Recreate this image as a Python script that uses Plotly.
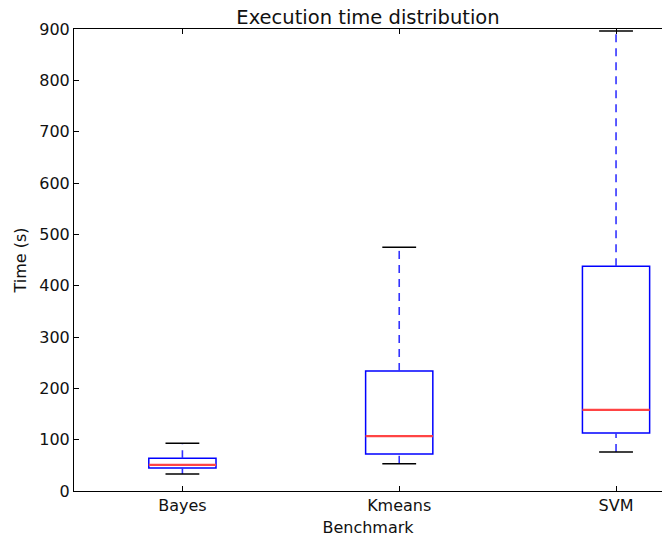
import plotly.graph_objects as go

benchmarks = ["Bayes", "Kmeans", "SVM"]
positions = [1, 2, 3]
whisker_low = [33, 53, 76]
q1 = [45, 72, 113]
median = [51, 107, 158]
q3 = [64, 234, 438]
whisker_high = [93, 475, 896]

box_half = 0.155
cap_half = 0.078

fig = go.Figure()

# boxes
fig.add_trace(go.Box(
    x=positions, q1=q1, median=median, q3=q3,
    lowerfence=q1, upperfence=q3,
    width=2 * box_half, whiskerwidth=0,
    line=dict(color="#0000ff", width=1.5),
    fillcolor="rgba(0,0,0,0)", boxpoints=False,
    hoverinfo="skip", showlegend=False,
))

for p, lo, a, m, b, hi in zip(positions, whisker_low, q1, median, q3, whisker_high):
    # whiskers (dashed)
    for y0, y1 in ((lo, a), (b, hi)):
        fig.add_trace(go.Scatter(x=[p, p], y=[y0, y1], mode="lines",
                                 line=dict(color="#3333ff", width=1.6, dash="8px,6px"),
                                 showlegend=False, hoverinfo="skip"))
    # caps
    for y in (lo, hi):
        fig.add_trace(go.Scatter(x=[p - cap_half, p + cap_half], y=[y, y], mode="lines",
                                 line=dict(color="black", width=1.5),
                                 showlegend=False, hoverinfo="skip", cliponaxis=False))
    # median
    fig.add_trace(go.Scatter(x=[p - box_half, p + box_half], y=[m, m], mode="lines",
                             line=dict(color="#ff4444", width=2.2),
                             showlegend=False, hoverinfo="skip"))

axis_font = dict(family="DejaVu Sans", size=16, color="#111111")

fig.update_layout(
    width=662, height=538,
    margin=dict(l=74, r=0, t=29, b=47, autoexpand=False),
    plot_bgcolor="white", paper_bgcolor="white",
    font=dict(family="DejaVu Sans", size=16, color="#111111"),
    title=dict(text="Execution time distribution", x=0.5, xref="paper",
               y=1 - 17 / 538, yanchor="middle", xanchor="center",
               font=dict(family="DejaVu Sans", size=19.5, color="#111111"),
               automargin=False),
    xaxis=dict(range=[0.5, 3.212], tickvals=positions, ticktext=benchmarks,
               ticks="inside", ticklen=5, tickcolor="black", showgrid=False,
               zeroline=False, showline=True, linecolor="black", linewidth=1,
               mirror="ticks", tickfont=axis_font, automargin=False,
               title=dict(text="Benchmark", font=axis_font, standoff=7)),
    yaxis=dict(range=[0, 900], tickvals=list(range(0, 901, 100)),
               ticks="inside", ticklen=5, tickcolor="black", showgrid=False,
               zeroline=False, showline=True, linecolor="black", linewidth=1,
               tickfont=axis_font, automargin=False,
               title=dict(text="Time (s)", font=axis_font, standoff=8)),
)

fig.write_html("out.html", config={"displayModeBar": False},
               post_script="document.body.style.margin='0';document.body.style.overflow='hidden';")
